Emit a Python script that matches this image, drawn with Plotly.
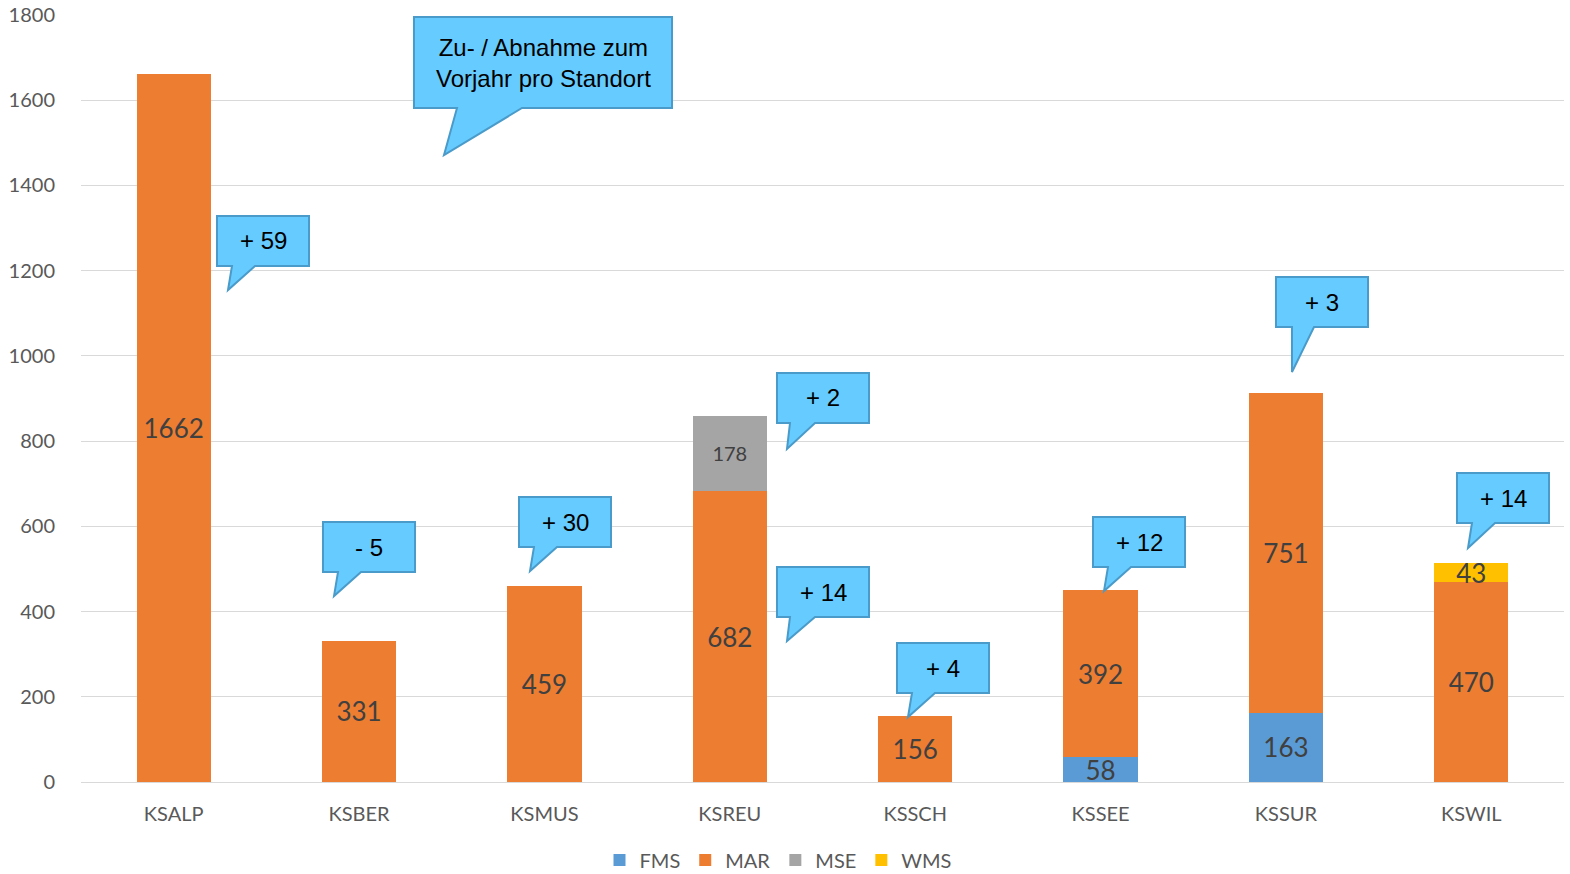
import plotly.graph_objects as go

categories = ["KSALP", "KSBER", "KSMUS", "KSREU", "KSSCH", "KSSEE", "KSSUR", "KSWIL"]
fms = [None, None, None, None, None, 58, 163, None]
mar = [1662, 331, 459, 682, 156, 392, 751, 470]
mse = [None, None, None, 178, None, None, None, None]
wms = [None, None, None, None, None, None, None, 43]

callout_texts = ["+ 59", "- 5", "+ 30", "+ 2", "+ 14", "+ 4", "+ 12", "+ 3", "+ 14"]
title_callout = "Zu- / Abnahme zum<br>Vorjahr pro Standort"

W, H = 1570, 874
ML, MR, MT, MB = 81, 6, 15, 92
PW, PH = W - ML - MR, H - MT - MB


def px(x):
    return (x - ML) / PW


def py(y):
    return (H - MB - y) / PH


def lbl(v):
    return [("" if a is None else str(a)) for a in v]


fig = go.Figure()
series = [("FMS", fms, "#5B9BD5", 26), ("MAR", mar, "#ED7D31", 26),
          ("MSE", mse, "#A5A5A5", 20), ("WMS", wms, "#FFC000", 26)]
for name, vals, col, fs in series:
    fig.add_trace(go.Bar(
        name=name, x=categories, y=vals, marker=dict(color=col, line=dict(width=0)),
        text=lbl(vals), textposition="inside", insidetextanchor="middle",
        constraintext="none", textangle=0,
        insidetextfont=dict(family="Lato", size=fs, color="#404040"),
        hoverinfo="skip"))

shapes = []
annotations = []

# callout geometry (pixel layout of the annotation bubbles)
small = [
    (217, 216, 228, 290, 15, 38),
    (323, 522, 334, 596, 15, 38),
    (519, 497, 530, 571, 15, 38),
    (777, 373, 787, 449, 13, 38),
    (777, 567, 787, 641, 13, 38),
    (897, 643, 908, 717, 15, 38),
    (1093, 517, 1104, 591, 15, 38),
    (1276, 277, 1292, 372, 16, 38),
    (1457, 473, 1468, 548, 15, 38),
]


def bubble(left, top, w, h, bl, br, tx, ty):
    right, bottom = left + w, top + h
    pts = [(left, top), (right, top), (right, bottom), (br, bottom), (tx, ty),
           (bl, bottom), (left, bottom)]
    d = "M " + " L ".join(f"{px(a):.5f},{py(b):.5f}" for a, b in pts) + " Z"
    return dict(type="path", xref="paper", yref="paper", path=d,
                fillcolor="#66CCFF", line=dict(color="#4A9BC9", width=2), layer="above")


for (left, top, tx, ty, o1, o2), txt in zip(small, callout_texts):
    shapes.append(bubble(left, top, 92, 50, left + o1, left + o2, tx, ty))
    annotations.append(dict(xref="paper", yref="paper", x=px(left + 46), y=py(top + 25),
                            text=txt, showarrow=False, xanchor="center", yanchor="middle",
                            font=dict(family="Liberation Sans", size=24, color="#000000")))

shapes.append(bubble(414, 17, 258, 91, 457, 522, 444, 155))
annotations.append(dict(xref="paper", yref="paper", x=px(543), y=py(63),
                        text=title_callout, showarrow=False, xanchor="center", yanchor="middle",
                        font=dict(family="Liberation Sans", size=24, color="#000000")))

fig.update_layout(
    barmode="stack", bargap=0.6,
    width=W, height=H,
    margin=dict(l=ML, r=MR, t=MT, b=MB, autoexpand=False),
    paper_bgcolor="white", plot_bgcolor="white",
    font=dict(family="Lato", color="#595959"),
    shapes=shapes, annotations=annotations,
    legend=dict(orientation="h", x=px(778), xanchor="center", y=py(860), yanchor="middle",
                font=dict(family="Lato", size=20, color="#595959"),
                traceorder="normal", itemwidth=30),
    xaxis=dict(showgrid=False, showline=True, linecolor="#D9D9D9", linewidth=1,
               tickfont=dict(family="Lato", size=20, color="#595959"), ticks="",
               ticklabelstandoff=14),
    yaxis=dict(range=[0, 1800], dtick=200, showgrid=True, gridcolor="#D9D9D9", gridwidth=1,
               zeroline=False, tickfont=dict(family="Lato", size=20, color="#595959"),
               ticks="", ticklabelstandoff=25),
)

fig.write_html("out.html", config={"displayModeBar": False},
               post_script="document.body.style.margin='0';document.body.style.padding='0';")
